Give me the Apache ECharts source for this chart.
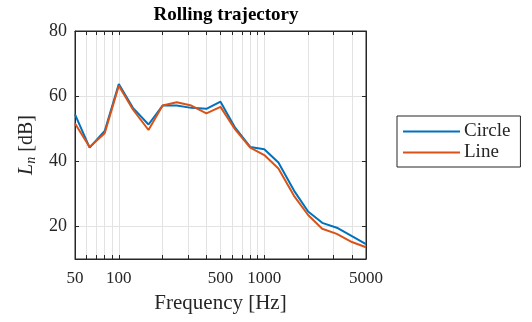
<!DOCTYPE html>
<html>
<head>
<meta charset="utf-8">
<script src="https://cdn.jsdelivr.net/npm/echarts@6/dist/echarts.min.js"></script>
<style>html,body{margin:0;padding:0;background:#fff;}#c{width:532px;height:322px;}</style>
</head>
<body>
<div id="c"></div>
<script>
const freqs = [50, 63, 80, 100, 125, 160, 200, 250, 315, 400, 500, 630, 800, 1000, 1250, 1600, 2000, 2500, 3150, 4000, 5000];
const circle = [54.4, 44.2, 49.3, 63.7, 56.4, 51.3, 57.1, 57.1, 56.4, 56.1, 58.3, 50.3, 44.4, 43.7, 39.6, 31.0, 24.6, 21.1, 19.6, 17.0, 14.6];
const line = [51.6, 44.4, 48.6, 63.2, 55.9, 49.6, 57.1, 58.1, 57.1, 54.7, 56.7, 49.8, 44.2, 41.9, 37.8, 29.4, 23.5, 19.3, 17.7, 15.2, 13.6];
const xTickLabels = [50, 100, 500, 1000, 5000];
const xGridValues = [50, 60, 70, 80, 90, 100, 200, 300, 400, 500, 600, 700, 800, 900, 1000, 2000, 3000, 4000, 5000];
const yTickLabels = [20, 40, 60, 80];

const FONT = 'Liberation Serif';
const AX = '#262626';
const TXT = '#262626';
const chart = echarts.init(document.getElementById('c'), null, {renderer: 'canvas'});
chart.setOption({
  animation: false,
  backgroundColor: '#fff',
  title: {
    text: 'Rolling trajectory', left: 221, top: 1, textAlign: 'center',
    textStyle: {fontFamily: FONT, fontWeight: 'bold', fontSize: 19, color: '#000'}
  },
  grid: {left: 75, right: 166, top: 31, bottom: 63, show: true, borderColor: AX, borderWidth: 1},
  legend: {
    orient: 'vertical', left: 397, top: 116,
    borderColor: AX, borderWidth: 1, padding: [6, 10, 5, 6], itemGap: 2,
    itemWidth: 57, itemHeight: 2, icon: 'rect',
    textStyle: {fontFamily: FONT, fontSize: 19, color: TXT, padding: [0, 0, 0, -1]},
    data: ['Circle', 'Line']
  },
  xAxis: [{
    type: 'log', logBase: 10, min: 50, max: 5000,
    name: 'Frequency [Hz]', nameLocation: 'middle', nameGap: 34,
    nameTextStyle: {fontFamily: FONT, fontSize: 21, color: TXT},
    axisLine: {show: true, lineStyle: {color: AX, width: 1}},
    axisTick: {show: true, inside: true, length: 4, lineStyle: {color: AX}, customValues: xGridValues},
    axisLabel: {customValues: xTickLabels, formatter: v => String(Math.round(v)), fontFamily: FONT, fontSize: 17, color: TXT, margin: 11},
    splitLine: {show: true, lineStyle: {color: '#e3e3e3', width: 1}},
    minorTick: {show: false}
  }, {
    type: 'log', logBase: 10, min: 50, max: 5000, position: 'top',
    axisLine: {show: true, lineStyle: {color: AX, width: 1}},
    axisTick: {show: true, inside: true, length: 4, lineStyle: {color: AX}, customValues: xGridValues},
    axisLabel: {show: false},
    splitLine: {show: false}
  }],
  yAxis: [{
    type: 'value', min: 10, max: 80,
    name: '{i|L}{s|n} [dB]', nameLocation: 'middle', nameGap: 36, nameRotate: 90,
    nameTextStyle: {fontFamily: FONT, fontSize: 20, color: TXT,
      rich: {i: {fontFamily: FONT, fontStyle: 'italic', fontSize: 20, color: TXT},
             s: {fontFamily: FONT, fontStyle: 'italic', fontSize: 14, color: TXT, verticalAlign: 'bottom', padding: [8, 0, 0, 0]}}},
    axisLine: {show: true, lineStyle: {color: AX, width: 1}},
    axisTick: {show: true, inside: true, length: 4, lineStyle: {color: AX}, customValues: yTickLabels},
    axisLabel: {customValues: yTickLabels, fontFamily: FONT, fontSize: 18, color: TXT, margin: 8},
    splitLine: {show: true, lineStyle: {color: '#e3e3e3', width: 1}}
  }, {
    type: 'value', min: 10, max: 80, position: 'right',
    axisLine: {show: true, lineStyle: {color: AX, width: 1}},
    axisTick: {show: true, inside: true, length: 4, lineStyle: {color: AX}, customValues: yTickLabels},
    axisLabel: {show: false},
    splitLine: {show: false}
  }],
  series: [{
    name: 'Circle', type: 'line', symbol: 'none', xAxisIndex: 0, yAxisIndex: 0,
    lineStyle: {color: '#0072BD', width: 2}, itemStyle: {color: '#0072BD'},
    data: freqs.map((f, i) => [f, circle[i]])
  }, {
    name: 'Line', type: 'line', symbol: 'none', xAxisIndex: 0, yAxisIndex: 0,
    lineStyle: {color: '#D95319', width: 2}, itemStyle: {color: '#D95319'},
    data: freqs.map((f, i) => [f, line[i]])
  }]
});
</script>
</body>
</html>
